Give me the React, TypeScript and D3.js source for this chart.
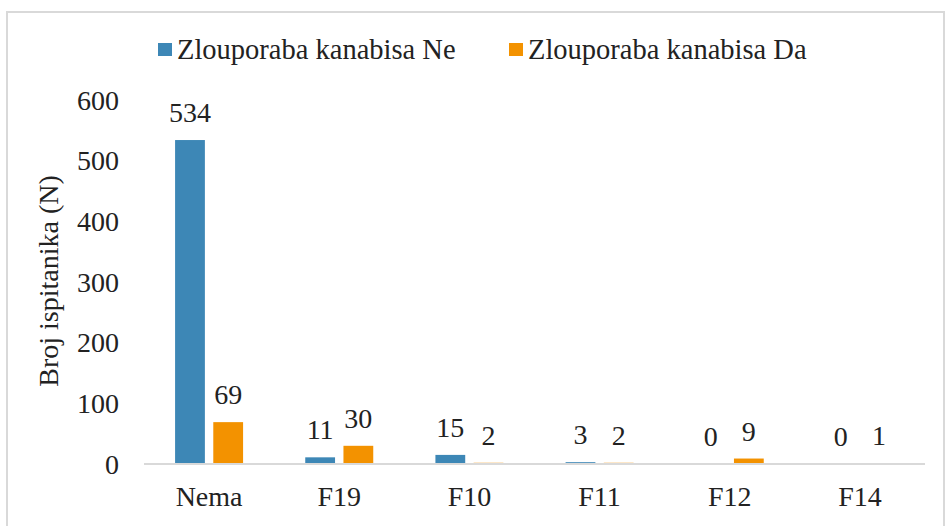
import React from 'react';
import * as d3 from 'd3';

const categories = ['Nema', 'F19', 'F10', 'F11', 'F12', 'F14'];
const seriesNames = ['Zlouporaba kanabisa Ne', 'Zlouporaba kanabisa Da'];
const valuesNe = [534, 11, 15, 3, 0, 0];
const valuesDa = [69, 30, 2, 2, 9, 1];
const yTicks = [0, 100, 200, 300, 400, 500, 600];
const colors = ['#3d87b6', '#f39200'];

const W = 948;
const H = 526;
const FAMILY = 'Liberation Serif';

const x = d3.scaleBand().domain(categories).range([144, 925]);
const mid = x.bandwidth() / 2;
const inner = d3.scaleBand().domain(seriesNames).range([mid - 34, mid + 34]).paddingInner(0.22);
const y = d3.scaleLinear().domain([0, 600]).range([464, 100]);

const Label = (props: any) => (
  <text fill="#222" fontFamily={FAMILY} fontSize={28}
    style={{ fontFamily: `'${FAMILY}', monospace`, fontSize: props.size || 28 }} {...props} />
);

const App = () => {
  const series = [valuesNe, valuesDa];
  const legendX = [158, 509];
  return (
    <svg width={W} height={H}
      style={{ position: 'absolute', left: 0, top: 0 }}>
      <style>{`text { font-family: 'Liberation Serif', Tinos; }`}</style>
      <rect x={7} y={12} width={937} height={530} fill="#fff" stroke="#d9d9d9" strokeWidth={2} />

      {seriesNames.map((name, i) => (
        <g key={name}>
          <rect x={legendX[i]} y={43} width={14} height={13} fill={colors[i]} />
          <Label x={legendX[i] + 19} y={59} size={28.5}>{name}</Label>
        </g>
      ))}

      {yTicks.map(t => (
        <Label key={t} x={119} y={y(t)} dy="0.35em" textAnchor="end">{t}</Label>
      ))}

      <Label transform="translate(58,281) rotate(-90)" textAnchor="middle">Broj ispitanika (N)</Label>

      {series.map((vals, si) => (
        <g key={si}>
          {vals.map((v, i) => {
            const bx = (x(categories[i]) as number) + (inner(seriesNames[si]) as number);
            return (
              <g key={i}>
                <rect x={bx} y={y(v)} width={inner.bandwidth()} height={y(0) - y(v)} fill={colors[si]} />
                <Label x={bx + inner.bandwidth() / 2} y={y(v) - 18} textAnchor="middle">{v}</Label>
              </g>
            );
          })}
        </g>
      ))}

      <line x1={144} x2={925} y1={y(0)} y2={y(0)} stroke="#d9d9d9" strokeWidth={2} />

      {categories.map(c => (
        <Label key={c} x={(x(c) as number) + mid} y={506} textAnchor="middle">{c}</Label>
      ))}
    </svg>
  );
};

export default App;
